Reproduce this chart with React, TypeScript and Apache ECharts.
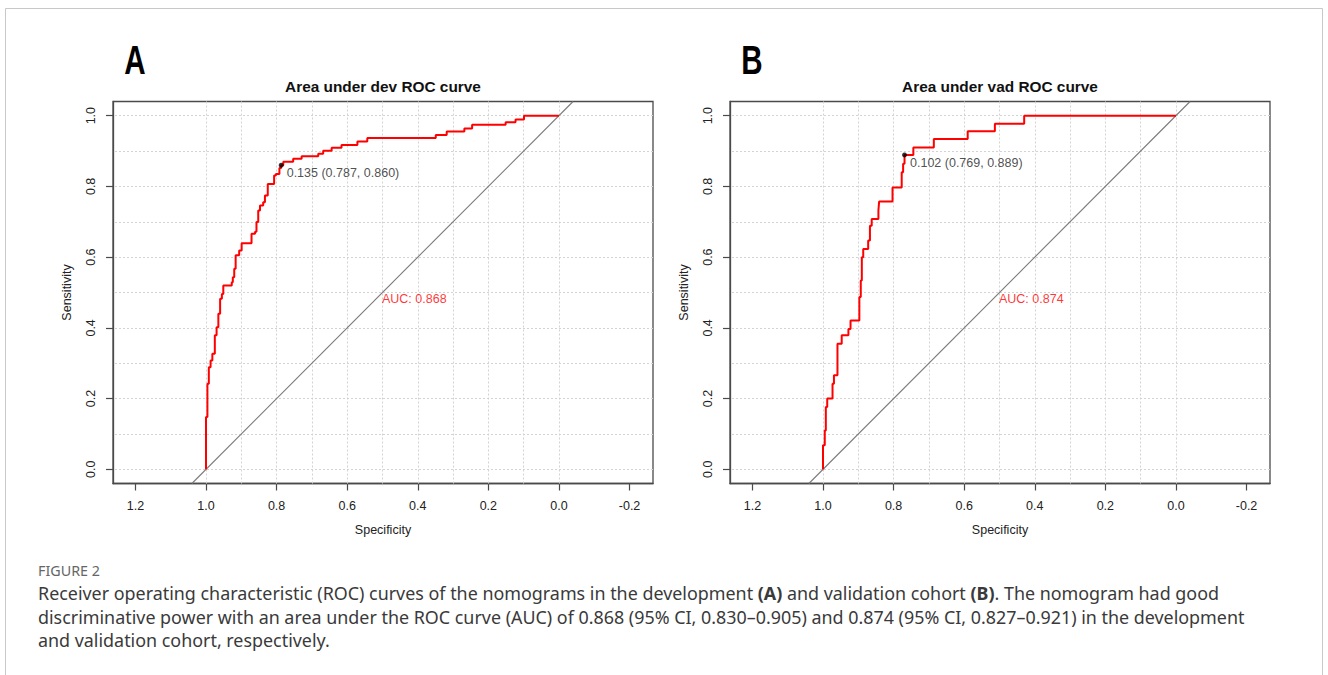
import React, { useEffect, useRef } from "react";
import * as echarts from "echarts";

// ---------- data ----------
const xTickValues = [1.2, 1.0, 0.8, 0.6, 0.4, 0.2, 0.0, -0.2];
const yTickValues = [0.0, 0.2, 0.4, 0.6, 0.8, 1.0];
const gridLineValues = [0, 0.1, 0.2, 0.3, 0.4, 0.5, 0.6, 0.7, 0.8, 0.9, 1.0];

const panelLetters = ["A", "B"];
const panelTitles = ["Area under dev ROC curve", "Area under vad ROC curve"];

// ROC step vertices: specificity where the curve rises, and the sensitivity reached
const devSpec = [1.0, 0.996, 0.992, 0.987, 0.982, 0.975, 0.97, 0.965, 0.96, 0.955, 0.951, 0.927, 0.924, 0.92, 0.916, 0.906, 0.899, 0.871, 0.861, 0.857, 0.852, 0.847, 0.838, 0.833, 0.825, 0.807, 0.802, 0.792, 0.787, 0.781, 0.753, 0.729, 0.682, 0.668, 0.644, 0.616, 0.571, 0.543, 0.349, 0.318, 0.268, 0.246, 0.151, 0.123, 0.099];
const devSens = [0.148, 0.242, 0.289, 0.308, 0.327, 0.379, 0.402, 0.44, 0.482, 0.496, 0.52, 0.529, 0.543, 0.567, 0.605, 0.619, 0.639, 0.666, 0.672, 0.699, 0.732, 0.746, 0.755, 0.774, 0.807, 0.831, 0.835, 0.852, 0.86, 0.87, 0.878, 0.885, 0.892, 0.901, 0.909, 0.917, 0.927, 0.937, 0.945, 0.955, 0.964, 0.974, 0.981, 0.989, 1.0];

const vadSpec = [1.0, 0.995, 0.992, 0.988, 0.973, 0.969, 0.959, 0.947, 0.928, 0.922, 0.897, 0.893, 0.89, 0.886, 0.872, 0.867, 0.862, 0.843, 0.841, 0.803, 0.777, 0.773, 0.769, 0.744, 0.686, 0.59, 0.513, 0.43];
const vadSens = [0.068, 0.11, 0.176, 0.2, 0.242, 0.266, 0.355, 0.379, 0.397, 0.421, 0.487, 0.534, 0.6, 0.623, 0.647, 0.689, 0.708, 0.732, 0.757, 0.797, 0.84, 0.864, 0.889, 0.91, 0.934, 0.956, 0.977, 1.0];

const thresholdLabels = ["0.135", "0.102"];
const thresholdSpec = [0.787, 0.769];
const thresholdSens = [0.86, 0.889];
const aucValues = [0.868, 0.874];
const aucPos = [0.5, 0.5];

const captionHead = "FIGURE 2";
const captionLines = [
  "Receiver operating characteristic (ROC) curves of the nomograms in the development {b|(A)} and validation cohort {b|(B)}. The nomogram had good",
  "discriminative power with an area under the ROC curve (AUC) of 0.868 (95% CI, 0.830–0.905) and 0.874 (95% CI, 0.827–0.921) in the development",
  "and validation cohort, respectively.",
];

// ---------- layout ----------
const X_MIN = -0.2665;
const X_MAX = 1.2635;
const Y_MIN = -0.04;
const Y_MAX = 1.04;
const GRID_LEFTS = [113, 730];
const GRID_TOP = 101.5;
const GRID_W = 540;
const GRID_H = 382;
const FONT = "'Liberation Sans', Arial, Helvetica, sans-serif";
const CAP_FONT = "'Noto Sans', 'Open Sans', sans-serif";
const CAP_SIZE = 17.9;
const AXIS_COLOR = "#4a4a4a";

function stepPath(spec: number[], sens: number[]): number[][] {
  const pts: number[][] = [[1, 0]];
  let prev = 0;
  for (let i = 0; i < spec.length; i++) {
    pts.push([spec[i], prev]);
    pts.push([spec[i], sens[i]]);
    prev = sens[i];
  }
  pts.push([0, prev]);
  return pts;
}

export default function App() {
  const ref = useRef<HTMLDivElement>(null);

  useEffect(() => {
    if (!ref.current) return;
    const chart = echarts.init(ref.current, null, { renderer: "svg" });
    const curves = [stepPath(devSpec, devSens), stepPath(vadSpec, vadSens)];

    const grids: any[] = [];
    const xAxes: any[] = [];
    const yAxes: any[] = [];
    const series: any[] = [];
    const graphics: any[] = [];

    for (let i = 0; i < 2; i++) {
      grids.push({
        left: GRID_LEFTS[i],
        top: GRID_TOP,
        width: GRID_W,
        height: GRID_H,
        show: true,
        borderColor: AXIS_COLOR,
        borderWidth: 1.3,
        backgroundColor: "transparent",
      });
      xAxes.push({
        type: "value",
        gridIndex: i,
        inverse: true,
        min: X_MIN,
        max: X_MAX,
        position: "bottom",
        axisLine: { show: true, onZero: false, lineStyle: { color: AXIS_COLOR, width: 1.3 } },
        axisTick: { show: true, inside: false, length: 7, customValues: xTickValues, lineStyle: { color: AXIS_COLOR, width: 1.2 } },
        axisLabel: {
          customValues: xTickValues,
          formatter: (v: number) => v.toFixed(1),
          margin: 16,
          fontSize: 12.5,
          color: "#222",
          fontFamily: FONT,
        },
        splitLine: { show: false },
        name: "Specificity",
        nameLocation: "middle",
        nameGap: 40,
        nameTextStyle: { fontSize: 12.5, color: "#222", fontFamily: FONT },
      });
      yAxes.push({
        type: "value",
        gridIndex: i,
        min: Y_MIN,
        max: Y_MAX,
        position: "left",
        axisLine: { show: true, onZero: false, lineStyle: { color: AXIS_COLOR, width: 1.3 } },
        axisTick: { show: true, inside: false, length: 7, customValues: yTickValues, lineStyle: { color: AXIS_COLOR, width: 1.2 } },
        axisLabel: {
          customValues: yTickValues,
          formatter: (v: number) => v.toFixed(1),
          rotate: 90,
          margin: 16,
          fontSize: 12.5,
          color: "#222",
          fontFamily: FONT,
        },
        splitLine: { show: false },
        name: "Sensitivity",
        nameLocation: "middle",
        nameGap: 40,
        nameRotate: 90,
        nameTextStyle: { fontSize: 12.5, color: "#222", fontFamily: FONT },
      });

      // grid lines
      series.push({
        type: "line",
        xAxisIndex: i,
        yAxisIndex: i,
        data: [],
        silent: true,
        z: 1,
        markLine: {
          silent: true,
          z: 1,
          symbol: ["none", "none"],
          label: { show: false },
          emphasis: { disabled: true },
          lineStyle: { color: "#d3d3d3", width: 1, type: [2, 2] },
          data: [
            ...gridLineValues.map((v) => ({ xAxis: v })),
            ...gridLineValues.map((v) => ({ yAxis: v })),
          ],
        },
      });
      // diagonal
      series.push({
        type: "line",
        xAxisIndex: i,
        yAxisIndex: i,
        data: [
          [1 - Y_MIN, Y_MIN],
          [1 - Y_MAX, Y_MAX],
        ],
        showSymbol: false,
        silent: true,
        lineStyle: { color: "#7a7a7a", width: 1.1 },
        z: 2,
      });
      // ROC curve
      series.push({
        type: "line",
        xAxisIndex: i,
        yAxisIndex: i,
        data: curves[i],
        showSymbol: false,
        silent: true,
        lineStyle: { color: "#ff0000", width: 2 },
        z: 3,
      });
      // threshold point
      series.push({
        type: "scatter",
        xAxisIndex: i,
        yAxisIndex: i,
        data: [[thresholdSpec[i], thresholdSens[i]]],
        symbolSize: 5,
        itemStyle: { color: "#000" },
        silent: true,
        z: 4,
        label: {
          show: true,
          position: "right",
          distance: 3,
          offset: [0, 8],
          formatter: () =>
            `${thresholdLabels[i]} (${thresholdSpec[i].toFixed(3)}, ${thresholdSens[i].toFixed(3)})`,
          fontSize: 12.5,
          color: "#222",
          fontFamily: FONT,
        },
      });
      // AUC text
      series.push({
        type: "scatter",
        xAxisIndex: i,
        yAxisIndex: i,
        data: [[aucPos[0], aucPos[1]]],
        symbolSize: 1,
        itemStyle: { color: "rgba(0,0,0,0)" },
        silent: true,
        z: 4,
        label: {
          show: true,
          position: [0, 0],
          align: "left",
          verticalAlign: "top",
          formatter: () => `AUC: ${aucValues[i].toFixed(3)}`,
          fontSize: 12.5,
          color: "#ff0000",
          fontFamily: FONT,
        },
      });

      // panel title
      graphics.push({
        type: "text",
        x: GRID_LEFTS[i] + GRID_W / 2,
        y: 86,
        silent: true,
        style: {
          text: panelTitles[i],
          textAlign: "center",
          textVerticalAlign: "middle",
          fontSize: 15.4,
          fontWeight: "bold",
          fontFamily: FONT,
          fill: "#111",
        },
      });
      // panel letter
      graphics.push({
        type: "text",
        x: GRID_LEFTS[i] + 22,
        y: 60,
        scaleX: 0.74,
        silent: true,
        style: {
          text: panelLetters[i],
          textAlign: "center",
          textVerticalAlign: "middle",
          fontSize: 40,
          fontWeight: "bold",
          fontFamily: FONT,
          fill: "#000",
        },
      });
    }

    // figure frame
    graphics.push({
      type: "polyline",
      silent: true,
      shape: { points: [[5.5, 675], [5.5, 8.5], [1322.5, 8.5], [1322.5, 675]] },
      style: { stroke: "#c8c8c8", lineWidth: 1, fill: "none" },
    });
    // caption
    graphics.push({
      type: "text",
      x: 38,
      y: 570,
      silent: true,
      style: {
        text: captionHead,
        textVerticalAlign: "middle",
        fontSize: 14.3,
        fontFamily: CAP_FONT,
        fill: "#666",
      },
    });
    captionLines.forEach((line, k) => {
      graphics.push({
        type: "text",
        x: 38,
        y: 593 + k * 23.5,
        silent: true,
        style: {
          text: line,
          textVerticalAlign: "middle",
          fontSize: CAP_SIZE,
          fontFamily: CAP_FONT,
          fill: "#3a3a3a",
          rich: {
            b: { fontSize: CAP_SIZE, fontFamily: CAP_FONT, fontWeight: "bold", fill: "#3a3a3a" },
          },
        },
      });
    });

    chart.setOption({
      animation: false,
      backgroundColor: "#fff",
      grid: grids,
      xAxis: xAxes,
      yAxis: yAxes,
      series,
      graphic: graphics,
    });

    return () => chart.dispose();
  }, []);

  return (
    <div
      ref={ref}
      style={{ position: "absolute", left: 0, top: 0, width: 1328, height: 675, background: "#fff" }}
    />
  );
}
